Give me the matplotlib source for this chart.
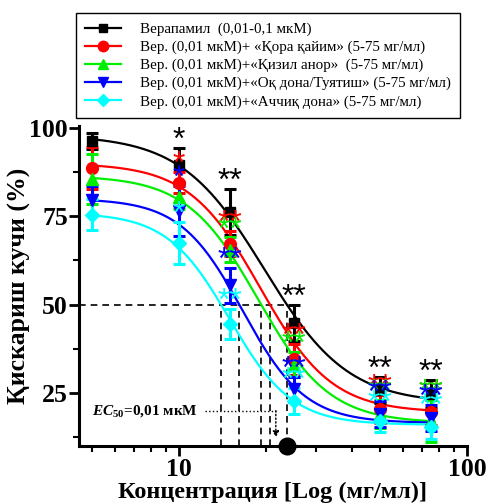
import matplotlib as mpl
mpl.use('Agg')
import numpy as np
from matplotlib import pyplot as plt
from matplotlib.lines import Line2D

# concentrations, mg/ml
conc = [5, 10, 15, 25, 50, 75]

labels = ['Верапамил  (0,01-0,1 мкМ)',
          'Вер. (0,01 мкМ)+ «Қора қайим» (5-75 мг/мл)',
          'Вер. (0,01 мкМ)+«Қизил анор»  (5-75 мг/мл)',
          'Вер. (0,01 мкМ)+«Оқ дона/Туятиш» (5-75 мг/мл)',
          'Вер. (0,01 мкМ)+«Аччиқ дона» (5-75 мг/мл)']
colors = ['black', '#ff0000', '#00ee00', '#0000ff', '#00ffff']
markers = ['s', 'o', '^', 'v', 'D']
msizes = [7, 8.5, 8.5, 8.5, 7.5]

# mean contraction force (%) and SEM
verap = [96.2, 89.6, 76.3, 44.8, 25.8, 24.7]
verap_err = [2.3, 4.8, 6.5, 5.0, 3.6, 4.0]
qora = [88.6, 84.5, 67.2, 34.5, 20.5, 19.5]
qora_err = [6.0, 3.0, 3.5, 4.5, 4.0, 3.5]
anor = [85.5, 80.5, 65.5, 33.0, 19.0, 17.0]
anor_err = [7.0, 3.5, 3.5, 3.5, 4.0, 6.0]
oqdona = [79.5, 76.5, 55.5, 26.0, 19.0, 18.0]
oqdona_err = [4.0, 7.0, 5.0, 3.6, 3.7, 3.7]
achchiq = [75.5, 67.5, 44.5, 22.8, 17.0, 15.5]
achchiq_err = [4.3, 6.0, 4.2, 3.7, 3.0, 3.5]

means = [verap, qora, anor, oqdona, achchiq]
errs = [verap_err, qora_err, anor_err, oqdona_err, achchiq_err]

# significance marks per point
stars = [['', '*', '**', '**', '**', '**'],
         ['', '*', '**', '**', '**', '**'],
         ['', '', '**', '**', '**', '**'],
         ['', '*', '**', '**', '**', '**'],
         ['', '*', '**', '**', '**', '**']]

# sigmoid fit parameters: top, bottom, EC50, Hill slope
fit_top = [98.0, 90.0, 86.5, 80.0, 76.0]
fit_bottom = [22.0, 19.5, 16.5, 16.5, 16.0]
fit_ec50 = [19.8, 19.16, 18.83, 16.65, 14.97]
fit_hill = [3.0, 3.5, 3.5, 4.0, 4.0]

# concentrations where each fit crosses 50 %
half_x = [23.7, 20.7, 19.3, 16.2, 14.0]

ec_label_y = 20.0
ec_arrow_x = 21.7

plt.rcParams['font.family'] = ['Liberation Serif', 'DejaVu Serif']
plt.rcParams['mathtext.fontset'] = 'custom'
plt.rcParams['mathtext.it'] = 'Liberation Serif:italic:bold'
plt.rcParams['mathtext.rm'] = 'Liberation Serif:bold'

fig = plt.figure(figsize=(4.87, 5.04), dpi=100)
ax = fig.add_axes([79/487, 1-446/504, 388/487, 319.5/504])

xfit = np.logspace(np.log10(5), np.log10(77), 300)
for i in range(5):
    yfit = fit_bottom[i] + (fit_top[i]-fit_bottom[i]) / (1 + (xfit/fit_ec50[i])**fit_hill[i])
    ax.plot(xfit, yfit, color=colors[i], lw=1.6, zorder=3)

for i in range(5):
    ax.errorbar(conc, means[i], yerr=errs[i], fmt=markers[i], color=colors[i],
                ms=msizes[i], elinewidth=2.2, capsize=4.3, capthick=2.2, zorder=4)
    for j, s in enumerate(stars[i]):
        if s:
            ax.text(conc[j], means[i][j]+errs[i][j]+2.0, s, color=colors[i],
                    ha='center', va='center', fontsize=23, family='Liberation Sans',
                    zorder=5)

# half-maximal guide lines
dash = dict(color='black', lw=1.2, ls=(0, (4, 3)), zorder=2)
ax.plot([4.5, max(half_x)], [50, 50], **dash)
for hx in half_x:
    ax.plot([hx, hx], [10, 50], **dash)

ax.text(5.0, ec_label_y, r'$EC_{\mathrm{50}}$=0,01 мкМ', fontsize=11, fontweight='bold',
        ha='left', va='center')
ax.plot([12.3, ec_arrow_x], [ec_label_y, ec_label_y], color='black', lw=1, ls=':')
ax.annotate('', xy=(ec_arrow_x, 12.4), xytext=(ec_arrow_x, ec_label_y),
            arrowprops=dict(arrowstyle='-|>', ls=':', lw=1, color='black',
                            mutation_scale=9, shrinkA=0, shrinkB=0))
ax.plot([half_x[0]], [10], 'o', color='black', ms=12, clip_on=False, zorder=6)

ax.set_xscale('log')
ax.set_xlim(4.5, 100)
ax.set_ylim(10, 100.4)
ax.set_yticks([25, 50, 75, 100])
ax.set_yticks([12.5, 37.5, 62.5, 87.5], minor=True)
ax.set_xticks([10, 100])
ax.set_xticklabels(['10', '100'])
for sp in ['top', 'right']:
    ax.spines[sp].set_visible(False)
for sp in ['left', 'bottom']:
    ax.spines[sp].set_linewidth(2.2)
ax.tick_params(which='major', direction='out', length=7, width=2, labelsize=18.5, pad=1)
ax.tick_params(which='minor', direction='out', length=4, width=1.5)
ax.tick_params(axis='x', which='major', pad=2)
for lab in ax.get_xticklabels() + ax.get_yticklabels():
    lab.set_fontweight('bold')

ax.set_xlabel('Концентрация [Log (мг/мл)]', fontsize=17.5, fontweight='bold', labelpad=0)
ax.set_ylabel('Қискариш кучи (%)', fontsize=18.5, fontweight='bold', labelpad=-1)

handles = [Line2D([], [], color=colors[i], marker=markers[i], ms=msizes[i]-1, lw=1.6)
           for i in range(5)]
leg = fig.legend(handles, labels, loc='upper left', bbox_to_anchor=(76/487, 1-13.3/504),
                 fontsize=10.8, frameon=True, fancybox=False, edgecolor='black',
                 framealpha=1, handlelength=2.4, handletextpad=1.3, labelspacing=0.3,
                 borderpad=0.6, borderaxespad=0)
leg.get_frame().set_linewidth(1.0)

fig.savefig('out.png', dpi=100)
